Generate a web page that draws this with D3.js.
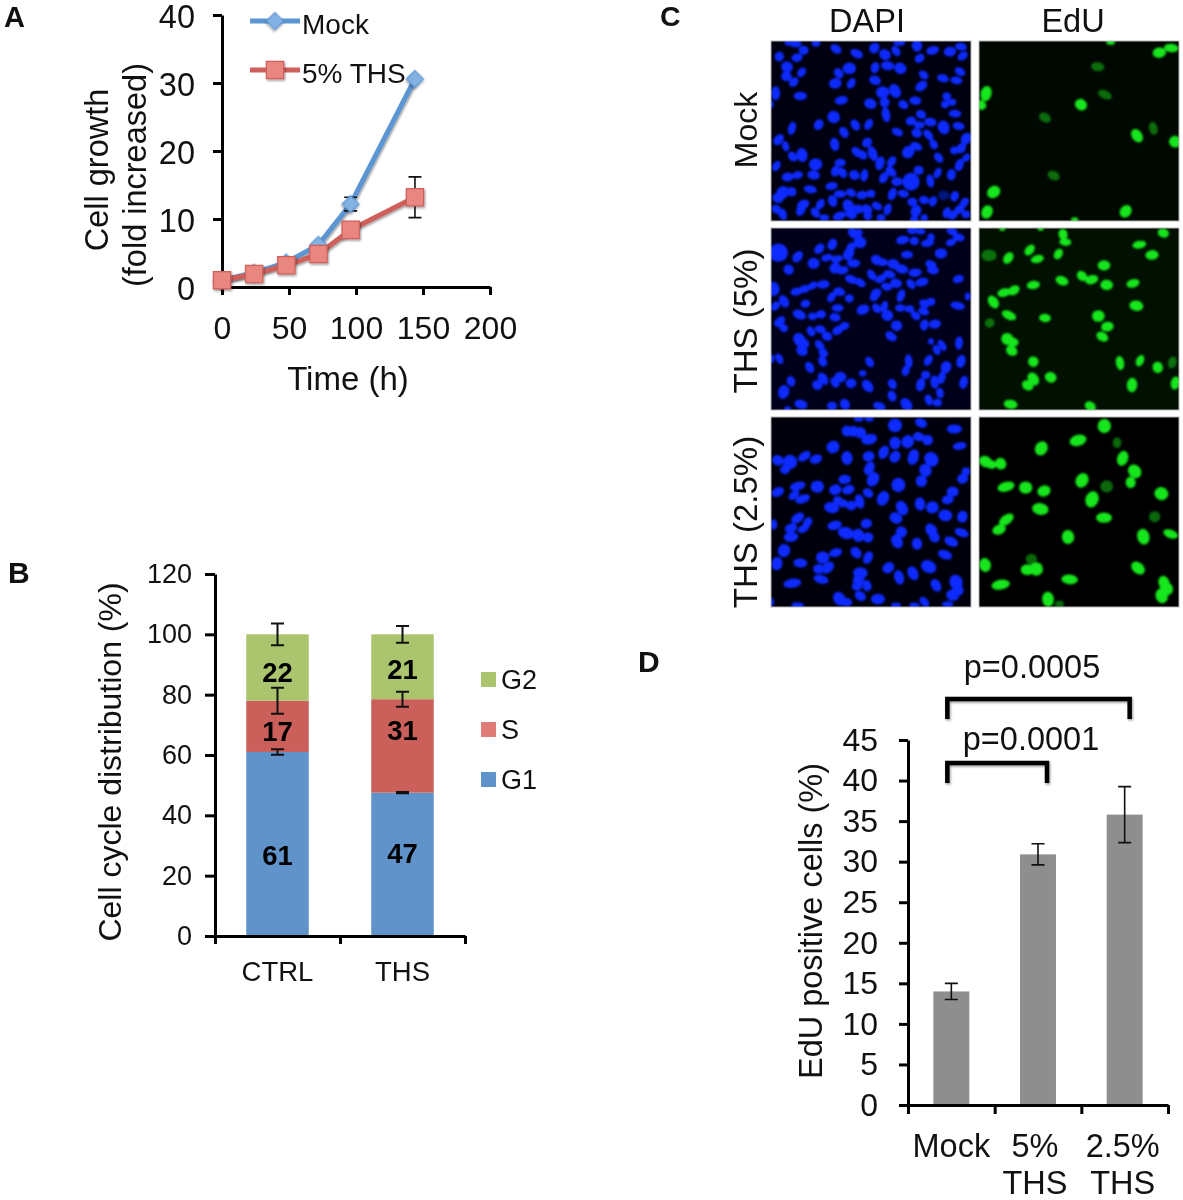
<!DOCTYPE html>
<html>
<head>
<meta charset="utf-8">
<script src="https://cdn.jsdelivr.net/npm/d3@7"></script>
<style>
  html, body { margin: 0; background: #fff; }
  svg { display: block; filter: blur(0.45px); }
  text { font-family: "Liberation Sans", Arial, sans-serif; fill: #111; }
  .axis path, .axis line { stroke: #000; stroke-width: 3px; }
</style>
</head>
<body>
<div id="figure"></div>
<script>
// panel A: cell growth
const hours = [0, 24, 48, 72, 96, 144];
const mockGrowth = [1, 2.1, 3.6, 6.2, 12.2, 30.6];
const mockGrowthErr = [0, 0.1, 0.2, 0.4, 1, 0.3];
const thsGrowth = [1, 1.9, 3.2, 4.85, 8.4, 13.2];
const thsGrowthErr = [0, 0.1, 0.2, 0.3, 0.4, 3];
const growthTicks = [0, 10, 20, 30, 40];
const timeTicks = [0, 50, 100, 150, 200];

// panel B: cell cycle distribution
const arms = ["CTRL", "THS"];
const g1Values = [61, 47.5];
const sValues = [17, 31];
const g2Values = [22, 21.5];
const g1Labels = ["61", "47"];
const sLabels = ["17", "31"];
const g2Labels = ["22", "21"];
const g1LabelAt = [26.8, 27.5];
const sLabelAt = [68, 68.3];
const g2LabelAt = [87.5, 88.5];
const g1Err = [0.9, 0.2];
const sErr = [4.3, 2.5];
const g2Err = [3.6, 2.8];
const phaseNames = ["G2", "S", "G1"];
const cycleTicks = [0, 20, 40, 60, 80, 100, 120];

// panel D: EdU positive cells
const eduGroups = ["Mock", "5% THS", "2.5% THS"];
const eduValues = [14, 30.9, 35.8];
const eduErr = [1, 1.3, 3.45];
const eduTicks = [0, 5, 10, 15, 20, 25, 30, 35, 40, 45];
const pLabels = ["p=0.0001", "p=0.0005"];

const dapiMock = [[75,8,14,8,0],[25,47,11,11,0],[98,28,12,10,0],[78,50,14,9,-10],[48,78,15,13,30],[92,94,13,8,-50],[46,106,13,11,0],[68,123,13,9,-45],[14,157,18,10,90],[88,165,17,9,0],[0,190,5,8,0],[135,5,10,8,0],[195,24,15,9,35],[257,38,17,9,25],[310,21,14,11,-50],[342,41,15,12,30],[375,30,14,8,55],[438,14,15,12,80],[485,28,17,9,-15],[537,32,16,11,-10],[570,17,15,8,10],[575,45,14,8,-35],[446,52,13,9,-40],[203,97,14,9,50],[235,82,17,14,0],[312,80,14,9,-75],[350,74,17,10,5],[388,82,16,13,30],[458,102,13,8,40],[516,112,15,8,15],[556,118,15,8,10],[567,92,14,8,30],[193,127,16,12,-10],[241,127,14,8,-60],[312,118,15,10,20],[451,135,17,10,-35],[372,150,19,13,60],[335,154,17,15,0],[527,166,10,9,0],[522,190,9,8,0],[543,184,10,7,0],[211,178,17,9,-10],[298,188,16,12,20],[341,184,12,11,0],[397,191,13,9,35],[433,179,15,9,5],[188,228,16,15,20],[345,221,20,9,80],[143,251,14,10,-60],[63,262,17,8,-75],[253,252,15,9,55],[293,250,15,8,-60],[420,240,13,10,-10],[450,220,13,9,20],[445,252,13,8,0],[478,243,16,9,10],[552,218,16,8,5],[563,255,15,8,10],[518,259,18,14,70],[379,273,15,8,25],[219,274,15,9,55],[437,276,13,10,30],[472,282,16,8,50],[488,310,13,8,60],[23,296,16,10,-50],[44,316,13,7,75],[191,310,17,10,80],[288,305,13,10,-40],[586,293,16,12,-50],[570,322,14,10,-45],[550,328,10,8,0],[412,333,17,14,-45],[436,316,16,8,25],[65,347,13,9,50],[93,342,18,13,80],[257,333,15,9,45],[275,342,12,9,50],[305,338,20,10,70],[503,350,14,8,50],[586,350,10,7,-45],[134,370,17,15,0],[208,365,14,8,0],[327,367,18,10,-75],[362,362,15,8,-55],[565,372,16,9,-70],[16,375,14,8,-60],[193,390,14,9,-70],[214,395,14,9,55],[443,388,12,10,0],[360,392,16,9,40],[338,410,15,9,-60],[50,408,15,10,-5],[80,402,13,8,-15],[128,402,16,10,10],[250,402,13,11,30],[280,403,16,8,-80],[500,396,14,7,-65],[541,401,14,10,-85],[478,420,17,8,80],[420,422,23,23,0],[378,422,14,10,0],[182,435,16,8,-8],[118,445,17,8,10],[35,455,18,15,-40],[62,452,12,10,20],[20,472,14,10,30],[207,459,16,8,0],[240,455,13,8,30],[273,462,14,9,-10],[300,458,10,8,0],[364,459,16,9,-70],[397,458,14,8,15],[551,466,13,9,-70],[424,483,12,9,0],[459,477,12,9,15],[486,481,13,8,-70],[185,480,15,10,70],[97,490,16,10,-20],[148,490,15,8,-60],[90,505,18,10,-70],[16,505,12,9,40],[35,520,15,9,70],[133,515,14,8,50],[232,495,18,13,70],[260,505,16,10,0],[288,505,14,10,40],[318,495,14,8,30],[350,505,15,8,-70],[435,510,16,12,-60],[527,515,14,8,-70],[580,485,14,8,-50],[565,505,14,9,-35],[545,522,13,9,-30],[585,520,10,8,0],[205,525,17,9,-20],[240,520,15,10,30],[160,530,12,7,0],[290,525,10,9,0],[330,530,10,7,0],[430,535,10,6,0],[460,530,8,7,0],[55,5,12,6,0],[385,5,15,6,0]];
const dapiMockDim = [[518,463,14,12,0]];
const eduMock = [[395,2,10,6,0],[541,35,17,12,-10],[577,21,19,9,5],[21,158,20,13,-75],[5,192,14,11,20],[306,191,16,13,35],[474,284,19,12,55],[588,302,15,14,30],[44,453,18,14,-35],[24,513,18,13,-65],[440,511,17,13,-50],[287,536,8,4,0]];
const eduMockDim = [[356,77,17,10,5],[378,161,19,9,25],[198,230,16,10,30],[523,262,17,9,75],[224,404,16,10,25]];
const dapiThs5 = [[22,74,26,24,0],[80,86,16,10,-50],[53,125,13,11,40],[128,106,15,13,0],[145,62,15,9,-45],[184,49,15,10,-65],[168,89,15,7,-15],[198,93,15,7,-15],[192,120,15,12,-50],[215,127,15,8,-15],[233,78,17,12,-60],[240,58,13,9,-50],[248,106,17,9,0],[245,15,15,9,60],[267,43,16,14,0],[262,15,10,9,0],[395,36,17,9,-10],[430,39,11,9,0],[425,7,14,8,0],[470,45,17,8,-10],[480,27,8,7,0],[450,10,10,6,0],[408,80,15,8,0],[510,76,16,12,0],[540,43,13,7,-20],[563,28,15,8,10],[543,10,14,8,20],[317,96,15,11,30],[335,103,12,8,0],[367,108,15,11,10],[392,123,17,10,10],[432,134,17,9,-5],[480,110,15,9,30],[486,126,15,9,10],[302,141,15,8,55],[330,152,15,8,-25],[355,139,16,8,15],[375,166,15,10,5],[347,176,14,8,15],[420,168,14,8,50],[453,162,17,9,-15],[562,153,14,8,-20],[241,154,17,9,20],[268,164,15,8,35],[157,169,16,9,-5],[125,173,13,7,-30],[100,183,15,8,-15],[76,191,15,8,-10],[5,183,18,18,0],[39,220,17,10,60],[13,234,13,8,-45],[103,227,12,8,-15],[205,191,15,9,15],[182,207,14,8,-55],[235,211,10,9,0],[315,196,14,10,-30],[310,207,12,8,-30],[390,203,17,8,-70],[560,233,19,8,12],[590,205,6,8,0],[200,240,15,8,0],[276,245,17,11,-20],[317,241,13,8,50],[340,235,14,7,-70],[388,240,13,8,0],[416,243,11,8,0],[460,227,13,9,20],[480,221,10,8,0],[458,250,14,8,20],[434,263,13,8,40],[85,260,18,10,25],[125,265,11,8,0],[150,259,12,9,0],[192,268,14,9,10],[349,262,15,13,20],[27,281,16,9,-50],[22,285,10,8,0],[38,300,10,8,45],[460,291,14,9,-75],[492,288,15,10,-10],[377,293,14,12,20],[220,294,13,8,-20],[200,307,14,9,-30],[120,310,13,8,60],[148,304,14,8,15],[168,325,13,10,20],[360,325,16,9,35],[85,335,18,14,60],[100,345,14,9,50],[93,368,15,11,30],[146,352,15,8,50],[157,375,12,9,30],[25,392,14,7,60],[0,392,7,10,0],[155,400,14,9,60],[480,340,6,6,0],[513,352,16,7,55],[497,366,13,7,60],[564,345,17,8,-85],[413,400,18,8,85],[404,428,13,8,-75],[472,397,15,8,-60],[570,400,17,10,-75],[525,418,16,12,-70],[296,402,14,8,60],[116,418,15,9,60],[275,436,8,6,0],[156,452,17,10,55],[208,447,15,12,0],[192,463,14,9,60],[139,471,13,11,20],[60,460,13,9,70],[240,466,13,11,0],[290,474,18,11,50],[364,468,13,9,60],[464,441,11,9,0],[512,449,16,8,-75],[491,462,17,9,85],[449,470,17,10,-75],[578,463,17,9,-75],[38,492,18,13,-75],[363,504,14,9,70],[507,495,13,8,80],[473,516,14,8,70],[499,524,11,8,0],[90,529,17,10,15],[183,534,12,9,0],[222,529,14,11,60],[325,535,16,9,20],[406,529,18,12,50],[50,542,8,4,0]];
const eduThs5 = [[252,19,14,10,80],[259,42,15,8,5],[553,15,14,10,20],[481,50,18,8,-10],[519,81,17,11,-5],[375,112,16,12,0],[152,66,16,9,-50],[88,90,16,10,-55],[175,93,17,8,-15],[238,78,14,9,-60],[249,158,17,10,20],[309,144,14,10,45],[338,155,17,10,-15],[383,171,16,12,5],[462,166,17,9,-15],[163,171,17,9,-8],[75,194,17,9,-15],[104,187,16,10,-30],[43,222,18,11,55],[472,233,18,12,10],[90,262,20,9,25],[198,270,15,9,5],[358,264,16,14,0],[385,296,16,11,-10],[370,326,16,10,30],[85,333,16,14,45],[100,342,16,10,10],[98,368,15,11,30],[163,401,13,12,30],[423,405,18,9,80],[483,398,15,8,-65],[536,418,14,12,80],[163,453,18,12,55],[146,472,15,11,30],[215,448,15,12,25],[459,471,19,12,-85],[589,465,17,10,-75],[95,529,18,10,10],[334,535,15,10,35],[70,2,6,3,0],[185,2,6,3,0]];
const eduThs5Dim = [[30,82,20,14,0],[32,285,12,10,-30],[580,403,15,9,-75]];
const dapiThs25 = [[263,5,12,5,0],[295,5,10,5,0],[372,25,18,17,0],[450,18,16,10,25],[550,36,20,10,0],[228,42,13,13,0],[248,43,12,13,0],[268,47,15,13,30],[295,67,21,12,-15],[443,59,14,10,10],[470,69,13,12,0],[566,87,18,8,-10],[186,90,17,15,-30],[100,118,18,9,-35],[135,126,16,10,-20],[228,123,18,13,85],[293,118,15,12,-10],[338,106,18,11,-65],[372,78,14,15,0],[410,74,17,15,-60],[372,119,16,12,-55],[427,120,21,13,-75],[481,127,20,17,50],[20,130,14,12,30],[57,135,19,18,0],[42,158,12,10,0],[463,160,17,14,50],[295,154,18,11,-60],[221,187,16,10,-5],[306,187,20,14,-60],[451,192,14,14,0],[382,204,18,18,0],[575,185,14,11,-20],[585,163,10,8,0],[80,207,21,9,-15],[139,209,17,15,0],[193,218,16,12,-15],[232,218,16,10,-20],[545,224,15,12,0],[20,225,17,10,-25],[291,228,14,9,35],[69,234,16,8,-40],[95,246,20,9,-20],[336,244,20,14,-65],[530,248,15,10,-10],[200,250,11,9,0],[216,259,11,9,0],[241,266,13,11,0],[266,253,19,10,75],[447,261,17,12,85],[484,271,16,15,0],[393,273,20,13,60],[182,272,20,13,10],[523,295,18,14,5],[574,299,15,12,-70],[80,303,19,10,-35],[375,303,17,13,30],[110,316,14,9,-60],[60,333,16,10,-20],[97,335,15,8,-25],[191,325,19,10,-15],[286,320,14,11,-10],[481,340,19,13,60],[8,322,8,12,0],[391,345,14,13,30],[225,348,22,14,15],[262,355,17,14,80],[291,361,13,12,0],[490,360,15,11,50],[572,347,19,9,20],[60,360,19,11,-5],[378,373,19,13,65],[438,380,15,12,80],[541,374,19,10,25],[39,401,17,15,-75],[194,407,17,9,-15],[255,407,16,11,50],[291,422,17,10,-65],[522,413,19,10,20],[155,422,17,15,0],[88,438,18,10,5],[18,440,17,13,-80],[171,452,18,11,-45],[144,456,15,11,0],[352,452,16,12,-40],[473,449,21,15,25],[426,469,19,12,65],[384,481,19,11,75],[268,468,19,14,0],[262,490,14,12,0],[150,487,20,9,15],[64,499,24,10,-10],[495,505,17,11,60],[555,495,19,16,70],[288,506,14,10,80],[258,508,13,9,-10],[560,520,15,13,0],[205,545,19,14,60],[268,537,15,10,30],[321,546,18,12,0],[545,535,17,13,20],[225,555,16,9,10],[460,555,15,8,50],[530,562,14,6,0],[80,565,16,6,0],[375,565,12,5,0],[430,565,12,5,0],[0,555,6,10,0]];
const eduThs25 = [[376,27,17,18,0],[297,70,23,13,-15],[187,94,19,15,-60],[431,124,20,13,-70],[20,134,18,13,25],[38,143,12,9,0],[65,140,15,13,60],[467,163,19,15,50],[309,190,20,15,-60],[455,196,12,14,0],[81,209,23,11,-15],[140,212,17,15,0],[195,222,17,13,-15],[547,230,18,16,20],[339,247,22,16,-70],[184,276,22,14,10],[375,302,21,12,0],[82,308,22,11,-35],[60,338,18,11,-20],[267,360,18,15,80],[493,359,21,15,75],[575,351,20,9,20],[18,444,18,14,80],[145,458,17,13,0],[172,456,17,17,0],[477,453,20,13,40],[272,487,22,11,5],[65,503,25,11,-10],[207,547,20,14,85],[555,497,18,13,70],[562,515,18,16,50],[548,537,19,15,70]];
const eduThs25Dim = [[414,77,10,13,0],[383,208,16,15,0],[527,299,14,13,0],[157,426,14,12,0],[241,562,11,8,0]];

const BLUE = "#5f93c9", RED = "#cb605b", GREEN = "#aac56e";

const svg = d3.select("#figure").append("svg").attr("width", 1183).attr("height", 1200);
const defs = svg.append("defs");
defs.append("filter").attr("id", "shadow").attr("x", "-30%").attr("y", "-30%").attr("width", "170%").attr("height", "170%")
  .append("feDropShadow").attr("dx", 1).attr("dy", 1.5).attr("stdDeviation", 1.2).attr("flood-opacity", 0.4);
defs.append("filter").attr("id", "soft").append("feGaussianBlur").attr("stdDeviation", 0.8);

function styleAxis(g, size) {
  g.attr("class", "axis");
  g.selectAll("text").style("font-size", size + "px").style("fill", "#111");
}

function verticalText(x, y, text, size) {
  svg.append("text")
    .attr("transform", `translate(${x},${y}) rotate(-90)`)
    .attr("text-anchor", "middle")
    .style("font-size", size + "px")
    .text(text);
}

function plainText(x, y, text, size, weight, anchor) {
  return svg.append("text")
    .attr("x", x)
    .attr("y", y)
    .attr("text-anchor", anchor || "start")
    .style("font-size", size + "px")
    .style("font-weight", weight || "normal")
    .text(text);
}

// vertical error bar with caps
function errorBar(g, x, yTop, yBottom, cap, width) {
  g.append("path")
    .attr("d", `M${x - cap},${yTop}H${x + cap}M${x},${yTop}V${yBottom}M${x - cap},${yBottom}H${x + cap}`)
    .attr("fill", "none")
    .attr("stroke", "#111")
    .attr("stroke-width", width);
}

// ---- panel A
function drawGrowth() {
  const x = d3.scaleLinear().domain([0, 200]).range([222, 490]);
  const y = d3.scaleLinear().domain([0, 40]).range([287, 15]);
  const g = svg.append("g");

  g.append("g").attr("transform", "translate(222,0)")
    .call(d3.axisLeft(y).tickValues(growthTicks).tickSize(9).tickSizeOuter(0).tickPadding(18))
    .call(styleAxis, 32.5)
    .call((a) => a.selectAll("text").attr("dy", "0.39em"));
  g.append("g").attr("transform", "translate(0,287)")
    .call(d3.axisBottom(x).tickValues(timeTicks).tickSize(8).tickSizeOuter(0).tickPadding(21))
    .call(styleAxis, 32);

  const line = d3.line().x((d, i) => x(hours[i])).y((d) => y(d));
  const diamond = d3.symbol().type(d3.symbolSquare).size(144);
  const square = d3.symbol().type(d3.symbolSquare).size(300);

  const series = [
    { values: mockGrowth, errs: mockGrowthErr, color: "#5b96d2", fill: "#83b1e4", shape: diamond, angle: 45 },
    { values: thsGrowth, errs: thsGrowthErr, color: "#cf5f5a", fill: "#e98680", shape: square, angle: 0 },
  ];
  series.forEach((s) => {
    g.append("path").datum(s.values).attr("d", line)
      .attr("fill", "none").attr("stroke", s.color).attr("stroke-width", 5)
      .attr("filter", "url(#shadow)");
    s.values.forEach((v, i) => {
      if (s.errs[i] > 0.5) errorBar(g, x(hours[i]), y(v + s.errs[i]), y(v - s.errs[i]), 6.5, 1.6);
    });
    g.selectAll(null).data(s.values).enter().append("path")
      .attr("d", s.shape)
      .attr("transform", (d, i) => `translate(${x(hours[i])},${y(d)}) rotate(${s.angle})`)
      .attr("fill", s.fill).attr("stroke", s.color).attr("stroke-width", 1.2)
      .attr("filter", "url(#shadow)");
  });

  // legend
  [["Mock", 21, series[0]], ["5% THS", 70, series[1]]].forEach(([name, ly, s]) => {
    g.append("line").attr("x1", 250).attr("x2", 300).attr("y1", ly).attr("y2", ly)
      .attr("stroke", s.color).attr("stroke-width", 5);
    g.append("path").attr("d", s.shape)
      .attr("transform", `translate(275,${ly}) rotate(${s.angle})`)
      .attr("fill", s.fill).attr("stroke", s.color).attr("stroke-width", 1.2)
      .attr("filter", "url(#shadow)");
    plainText(302, ly + 13, name, 28);
  });

  verticalText(108, 170, "Cell growth", 32.5);
  verticalText(146, 175, "(fold increased)", 32.5);
  plainText(348, 390, "Time (h)", 33, "normal", "middle");
}

// ---- panel B
function drawCycle() {
  const x = d3.scaleBand().domain(arms).range([215, 465]).paddingInner(0.5).paddingOuter(0.25);
  const y = d3.scaleLinear().domain([0, 120]).range([936, 574]);
  const g = svg.append("g");

  const stacked = arms.map((arm, i) => {
    const s = g1Values[i], t = s + sValues[i];
    return [
      { arm, from: 0, to: s, color: BLUE, label: g1Labels[i], labelAt: g1LabelAt[i], err: g1Err[i] },
      { arm, from: s, to: t, color: RED, label: sLabels[i], labelAt: sLabelAt[i], err: sErr[i] },
      { arm, from: t, to: t + g2Values[i], color: GREEN, label: g2Labels[i], labelAt: g2LabelAt[i], err: g2Err[i] },
    ];
  });

  stacked.forEach((segments) => {
    segments.forEach((d) => {
      g.append("rect")
        .attr("x", x(d.arm))
        .attr("width", x.bandwidth())
        .attr("y", y(d.to))
        .attr("height", y(d.from) - y(d.to))
        .attr("fill", d.color);
    });
  });
  stacked.forEach((segments) => {
    segments.forEach((d) => {
      const cx = x(d.arm) + x.bandwidth() / 2;
      errorBar(g, cx, y(d.to + d.err), y(d.to - d.err), 6.5, 2);
      plainText(cx, y(d.labelAt) + 10, d.label, 27.5, "bold", "middle").style("fill", "#000");
    });
  });

  g.append("g").attr("transform", "translate(215,0)")
    .call(d3.axisLeft(y).tickValues(cycleTicks).tickSize(10).tickSizeOuter(0).tickPadding(13))
    .call(styleAxis, 27);
  const boundaries = d3.scaleLinear().domain([0, arms.length]).range([215, 465]);
  g.append("g").attr("transform", "translate(0,936)")
    .call(d3.axisBottom(boundaries).ticks(arms.length).tickFormat("").tickSize(8).tickSizeOuter(0))
    .call(styleAxis, 26);
  arms.forEach((arm) => plainText(x(arm) + x.bandwidth() / 2, 981, arm, 27.5, "normal", "middle"));

  // legend
  const legendY = d3.scalePoint().domain(phaseNames).range([679, 779]);
  const legendColor = d3.scaleOrdinal().domain(phaseNames).range([GREEN, "#de7b76", BLUE]);
  phaseNames.forEach((name) => {
    g.append("rect").attr("x", 481).attr("y", legendY(name) - 7).attr("width", 15).attr("height", 15)
      .attr("fill", legendColor(name));
    plainText(501, legendY(name) + 10, name, 27);
  });

  verticalText(121, 762, "Cell cycle distribution (%)", 32);
}

// ---- panel C
function drawNuclei(px, py, pw, ph, background, color, bright, dim) {
  const clipId = `clip-${px}-${py}`;
  defs.append("clipPath").attr("id", clipId)
    .append("rect").attr("x", px).attr("y", py).attr("width", pw).attr("height", ph);
  const sx = d3.scaleLinear().domain([0, pw * 3]).range([px, px + pw]);
  const sy = d3.scaleLinear().domain([0, ph * 3]).range([py, py + ph]);
  const k = (v) => sx(v) - px;

  svg.append("rect").attr("x", px).attr("y", py).attr("width", pw).attr("height", ph).attr("fill", background);
  const g = svg.append("g").attr("clip-path", `url(#${clipId})`).append("g").attr("filter", "url(#soft)");
  [[dim, 0.45], [bright, 1]].forEach(([cells, opacity]) => {
    g.selectAll(null).data(cells).enter().append("ellipse")
      .attr("transform", (d) => `translate(${sx(d[0])},${sy(d[1])}) rotate(${d[4]})`)
      .attr("rx", (d) => k(d[2]) + 1)
      .attr("ry", (d) => k(d[3]) + 1.2)
      .attr("fill", color)
      .attr("opacity", opacity);
  });
  svg.append("rect").attr("x", px).attr("y", py).attr("width", pw).attr("height", ph)
    .attr("fill", "none").attr("stroke", "#b4b4b4").attr("stroke-width", 1);
}

function drawMicrographs() {
  const nucleusBlue = "#0b2cff", nucleusGreen = "#18e61c";
  drawNuclei(771, 41, 200, 180, "#000010", nucleusBlue, dapiMock, dapiMockDim);
  drawNuclei(979, 41, 200, 180, "#010801", nucleusGreen, eduMock, eduMockDim);
  drawNuclei(771, 228, 200, 182, "#00001a", nucleusBlue, dapiThs5, []);
  drawNuclei(979, 228, 200, 182, "#021002", nucleusGreen, eduThs5, eduThs5Dim);
  drawNuclei(771, 417, 200, 190, "#00000c", nucleusBlue, dapiThs25, []);
  drawNuclei(979, 417, 200, 190, "#000000", nucleusGreen, eduThs25, eduThs25Dim);

  plainText(867, 32, "DAPI", 32.5, "normal", "middle");
  plainText(1073, 32, "EdU", 32.5, "normal", "middle");
  verticalText(757, 130, "Mock", 32);
  verticalText(757, 321, "THS (5%)", 33);
  verticalText(757, 522, "THS (2.5%)", 33);
}

// ---- panel D
function drawEdu() {
  const x = d3.scaleBand().domain(eduGroups).range([908, 1168]).paddingInner(0.585).paddingOuter(0.2925);
  const y = d3.scaleLinear().domain([0, 45]).range([1105, 740]);
  const center = (name) => x(name) + x.bandwidth() / 2;
  const g = svg.append("g");

  g.selectAll("rect").data(eduValues).enter().append("rect")
    .attr("x", (d, i) => x(eduGroups[i]))
    .attr("width", x.bandwidth())
    .attr("y", (d) => y(d))
    .attr("height", (d) => y(0) - y(d))
    .attr("fill", "#8e8e8e");
  eduValues.forEach((v, i) => {
    errorBar(g, center(eduGroups[i]), y(v + eduErr[i]), y(v - eduErr[i]), 6.5, 1.6);
  });

  g.append("g").attr("transform", "translate(908,0)")
    .call(d3.axisLeft(y).tickValues(eduTicks).tickSize(9).tickSizeOuter(0).tickPadding(21))
    .call(styleAxis, 32);
  const boundaries = d3.scaleLinear().domain([0, eduGroups.length]).range([908, 1168]);
  g.append("g").attr("transform", "translate(0,1105)")
    .call(d3.axisBottom(boundaries).ticks(eduGroups.length).tickFormat("").tickSize(9).tickSizeOuter(0))
    .call(styleAxis, 32);

  plainText(center(eduGroups[0]), 1157, "Mock", 32.5, "normal", "middle");
  plainText(center(eduGroups[1]) - 3, 1157, "5%", 32.5, "normal", "middle");
  plainText(center(eduGroups[1]) - 3, 1194, "THS", 32.5, "normal", "middle");
  plainText(center(eduGroups[2]) - 2, 1157, "2.5%", 32.5, "normal", "middle");
  plainText(center(eduGroups[2]) - 2, 1194, "THS", 32.5, "normal", "middle");

  // significance brackets
  const bracket = (x1, x2, top) => {
    g.append("path")
      .attr("d", `M${x1},${top + 20}V${top}H${x2}V${top + 20}`)
      .attr("fill", "none").attr("stroke", "#000").attr("stroke-width", 4.5)
      .attr("filter", "url(#shadow)");
  };
  bracket(center(eduGroups[0]) - 4, center(eduGroups[2]) + 5, 699);
  bracket(center(eduGroups[0]) - 4, center(eduGroups[1]) + 9, 763);
  plainText(1031, 750, pLabels[0], 32.5, "normal", "middle");
  plainText(1032, 678, pLabels[1], 32.5, "normal", "middle");

  verticalText(822, 921, "EdU positive cells (%)", 32.5);
}

drawGrowth();
drawCycle();
drawMicrographs();
drawEdu();

// panel letters
plainText(4, 27, "A", 29, "bold");
plainText(8, 583, "B", 30, "bold");
plainText(660, 26, "C", 28.5, "bold");
plainText(638, 672, "D", 30, "bold");
</script>
</body>
</html>
